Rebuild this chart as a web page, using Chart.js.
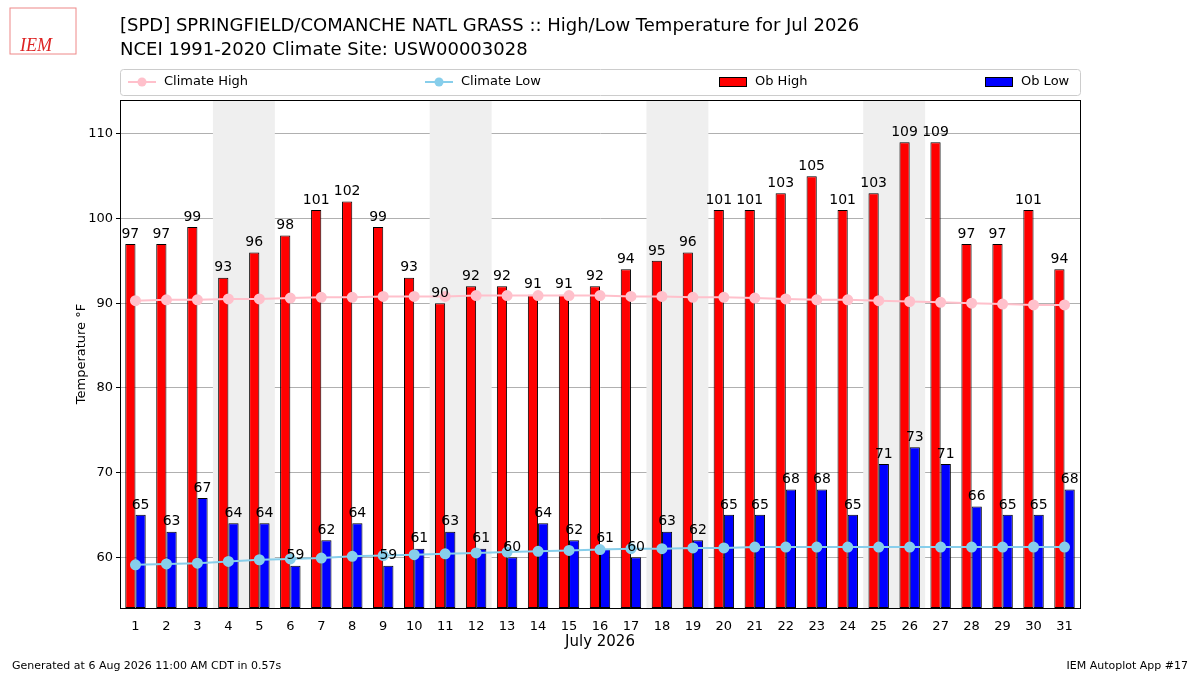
<!DOCTYPE html>
<html><head><meta charset="utf-8">
<script src="https://cdn.jsdelivr.net/npm/chart.js@4/dist/chart.umd.min.js"></script>
<style>body{margin:0;background:#fff}#w{width:1200px;height:675px;position:relative}</style>
</head><body><div id="w"><canvas id="c" width="1200" height="675"></canvas></div>
<script>
const days = Array.from({length:31},(_,i)=>String(i+1));
const obHigh = [97,97,99,93,96,98,101,102,99,93,90,92,92,91,91,92,94,95,96,101,101,103,105,101,103,109,109,97,97,101,94];
const obLow = [65,63,67,64,64,59,62,64,59,61,63,61,60,64,62,61,60,63,62,65,65,68,68,65,71,73,71,66,65,65,68];
const climHigh = [90.3,90.4,90.4,90.5,90.5,90.6,90.7,90.7,90.8,90.8,90.8,90.9,90.9,90.9,90.9,90.9,90.8,90.8,90.7,90.7,90.6,90.5,90.4,90.4,90.3,90.2,90.1,90.0,89.9,89.8,89.8];
const climLow = [59.1,59.2,59.3,59.5,59.7,59.8,59.9,60.1,60.2,60.3,60.4,60.5,60.6,60.7,60.8,60.9,61.0,61.0,61.1,61.1,61.2,61.2,61.2,61.2,61.2,61.2,61.2,61.2,61.2,61.2,61.2];
const weekends = [[3,4],[10,11],[17,18],[24,25]];
const F = 'DejaVu Sans';
const deco = {
  id:'deco',
  beforeDatasetsDraw(ch){
    const {ctx,chartArea:a,scales:{x}}=ch;
    const w = x.getPixelForValue(1)-x.getPixelForValue(0);
    ctx.save();ctx.fillStyle='#efefef';
    weekends.forEach(([s,e])=>{const l=x.getPixelForValue(s)-w/2,r=x.getPixelForValue(e)+w/2;ctx.fillRect(l,a.top,r-l,a.bottom-a.top);});
    ctx.restore();
  },
  afterDatasetsDraw(ch){
    const {ctx}=ch;
    ctx.save();ctx.font='14px '+F;ctx.fillStyle='#000';ctx.textAlign='center';ctx.textBaseline='bottom';
    [0,1].forEach(di=>{
      ch.getDatasetMeta(di).data.forEach((b,i)=>{ctx.fillText(ch.data.datasets[di].data[i],b.x,b.y-3);});
    });
    ctx.restore();
  },
  afterDraw(ch){
    const {ctx,chartArea:a}=ch;
    ctx.save();
    ctx.fillStyle='#000';ctx.font='18px '+F;ctx.textBaseline='alphabetic';ctx.textAlign='left';
    ctx.fillText('[SPD] SPRINGFIELD/COMANCHE NATL GRASS :: High/Low Temperature for Jul 2026',120,31);
    ctx.fillText('NCEI 1991-2020 Climate Site: USW00003028',120,55);
    ctx.font='11px '+F;
    ctx.fillText('Generated at 6 Aug 2026 11:00 AM CDT in 0.57s',12,669);
    ctx.textAlign='right';ctx.fillText('IEM Autoplot App #17',1188,669);
    ctx.textAlign='left';ctx.fillStyle='#d22';ctx.font='italic 18px Liberation Serif';ctx.fillText('IEM',20,51);
    ctx.strokeStyle='#e88';ctx.lineWidth=1;ctx.strokeRect(10,8,66,46);
    ctx.strokeStyle='#ccc';ctx.lineWidth=1;ctx.fillStyle='#fff';
    ctx.beginPath();ctx.roundRect(120.5,69.5,960,26,3);ctx.fill();ctx.stroke();
    ctx.font='13px '+F;ctx.fillStyle='#000';ctx.textBaseline='middle';
    const y=82;
    const line=(x0,c,label)=>{ctx.strokeStyle=c;ctx.lineWidth=2;ctx.beginPath();ctx.moveTo(x0,y);ctx.lineTo(x0+28,y);ctx.stroke();
      ctx.fillStyle=c;ctx.beginPath();ctx.arc(x0+14,y,4.5,0,7);ctx.fill();ctx.fillStyle='#000';ctx.fillText(label,x0+36,y);};
    line(128,'pink','Climate High');line(425,'skyblue','Climate Low');
    const box=(x0,c,label)=>{ctx.fillStyle=c;ctx.fillRect(x0,y-5,28,10);ctx.strokeStyle='#000';ctx.lineWidth=1;ctx.strokeRect(x0+.5,y-4.5,27,9);ctx.fillStyle='#000';ctx.fillText(label,x0+36,y);};
    box(719,'red','Ob High');box(985,'blue','Ob Low');
    ctx.strokeStyle='#000';ctx.lineWidth=1;ctx.strokeRect(a.left+.5,a.top+.5,a.right-a.left,a.bottom-a.top);
    ctx.restore();
  }
};
new Chart(document.getElementById('c'),{
  data:{labels:days,datasets:[
    {type:'bar',label:'Ob High',data:obHigh,backgroundColor:'red',borderColor:'#000',borderWidth:1,borderSkipped:false,order:3},
    {type:'bar',label:'Ob Low',data:obLow,backgroundColor:'blue',borderColor:'#000',borderWidth:1,borderSkipped:false,order:3},
    {type:'line',label:'Climate High',data:climHigh,borderColor:'pink',backgroundColor:'pink',pointRadius:4.5,borderWidth:2,order:1},
    {type:'line',label:'Climate Low',data:climLow,borderColor:'skyblue',backgroundColor:'skyblue',pointRadius:4.5,borderWidth:2,order:1}
  ]},
  options:{responsive:false,animation:false,
    layout:{padding:{left:70,right:120,top:100,bottom:20}},
    datasets:{bar:{categoryPercentage:0.66,barPercentage:1,base:54}},
    plugins:{legend:{display:false},tooltip:{enabled:false}},
    scales:{
      x:{grid:{display:false},border:{color:'#000'},ticks:{color:'#000',font:{family:F,size:13},maxRotation:0,autoSkip:false},
        title:{display:true,text:'July 2026',color:'#000',font:{family:F,size:15},padding:{top:2}},
        afterFit(s){s.height=47;}},
      y:{min:54,max:114,grid:{color:'#b0b0b0',drawTicks:true,tickColor:'#000',tickLength:4},border:{color:'#000'},
        ticks:{color:'#000',font:{family:F,size:13}},
        afterBuildTicks(s){s.ticks=[60,70,80,90,100,110].map(v=>({value:v}));},
        title:{display:true,text:'Temperature °F',color:'#000',font:{family:F,size:13}},
        afterFit(s){s.width=50;}}
    }
  },
  plugins:[deco]
});
</script></body></html>
